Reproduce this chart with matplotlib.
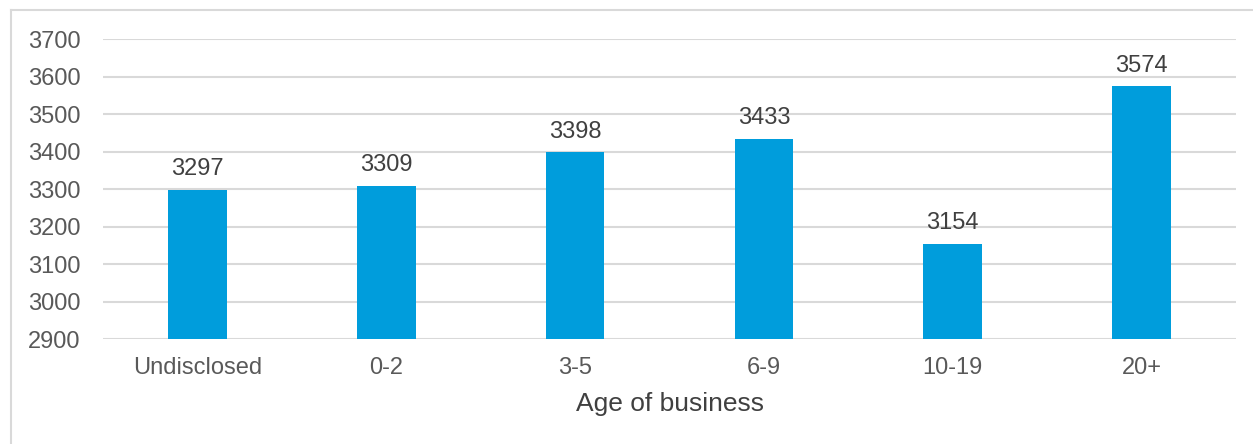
import matplotlib
matplotlib.use("Agg")
import matplotlib.pyplot as plt
from matplotlib.lines import Line2D

categories = ["Undisclosed", "0-2", "3-5", "6-9", "10-19", "20+"]
values = [3297, 3309, 3398, 3433, 3154, 3574]
y_ticks = [2900, 3000, 3100, 3200, 3300, 3400, 3500, 3600, 3700]
x_title = "Age of business"

plt.rcParams["font.family"] = ["Liberation Sans", "DejaVu Sans"]

W, H = 1253, 444
fig = plt.figure(figsize=(W / 100, H / 100), dpi=100)
ax = fig.add_axes([103 / W, 1 - 339 / H, (1236 - 103) / W, (339 - 39) / H])

bar_color = "#009DDC"
grid_color = "#D9D9D9"
tick_color = "#595959"
label_color = "#404040"

x = list(range(len(categories)))
bars = ax.bar(x, values, width=0.31, color=bar_color, bottom=0, zorder=3)

ax.set_ylim(2900, 3700)
ax.set_xlim(-0.5, len(categories) - 0.5)
ax.set_yticks(y_ticks)
ax.set_yticklabels([str(t) for t in y_ticks])
ax.set_xticks(x)
ax.set_xticklabels(categories)
ax.yaxis.grid(True, color=grid_color, linewidth=1.5, zorder=0)
ax.set_axisbelow(True)
for s in ax.spines.values():
    s.set_visible(False)
ax.tick_params(axis="both", length=0, labelsize=17, colors=tick_color)
ax.tick_params(axis="x", pad=13)
ax.tick_params(axis="y", pad=16)

for xi, v in zip(x, values):
    ax.annotate(str(v), (xi, v), xytext=(0, 7), textcoords="offset points",
                ha="center", va="bottom", fontsize=17, color=label_color)

ax.set_xlabel(x_title, fontsize=19, color=label_color, labelpad=9)

# Light frame around the chart area (left and top edges)
bx, by = 11 / W, 1 - 10 / H
fig.add_artist(Line2D([bx, bx], [0, by], transform=fig.transFigure,
                      color=grid_color, linewidth=1.5))
fig.add_artist(Line2D([bx, 1], [by, by], transform=fig.transFigure,
                      color=grid_color, linewidth=1.5))

fig.savefig("out.png", dpi=100)
